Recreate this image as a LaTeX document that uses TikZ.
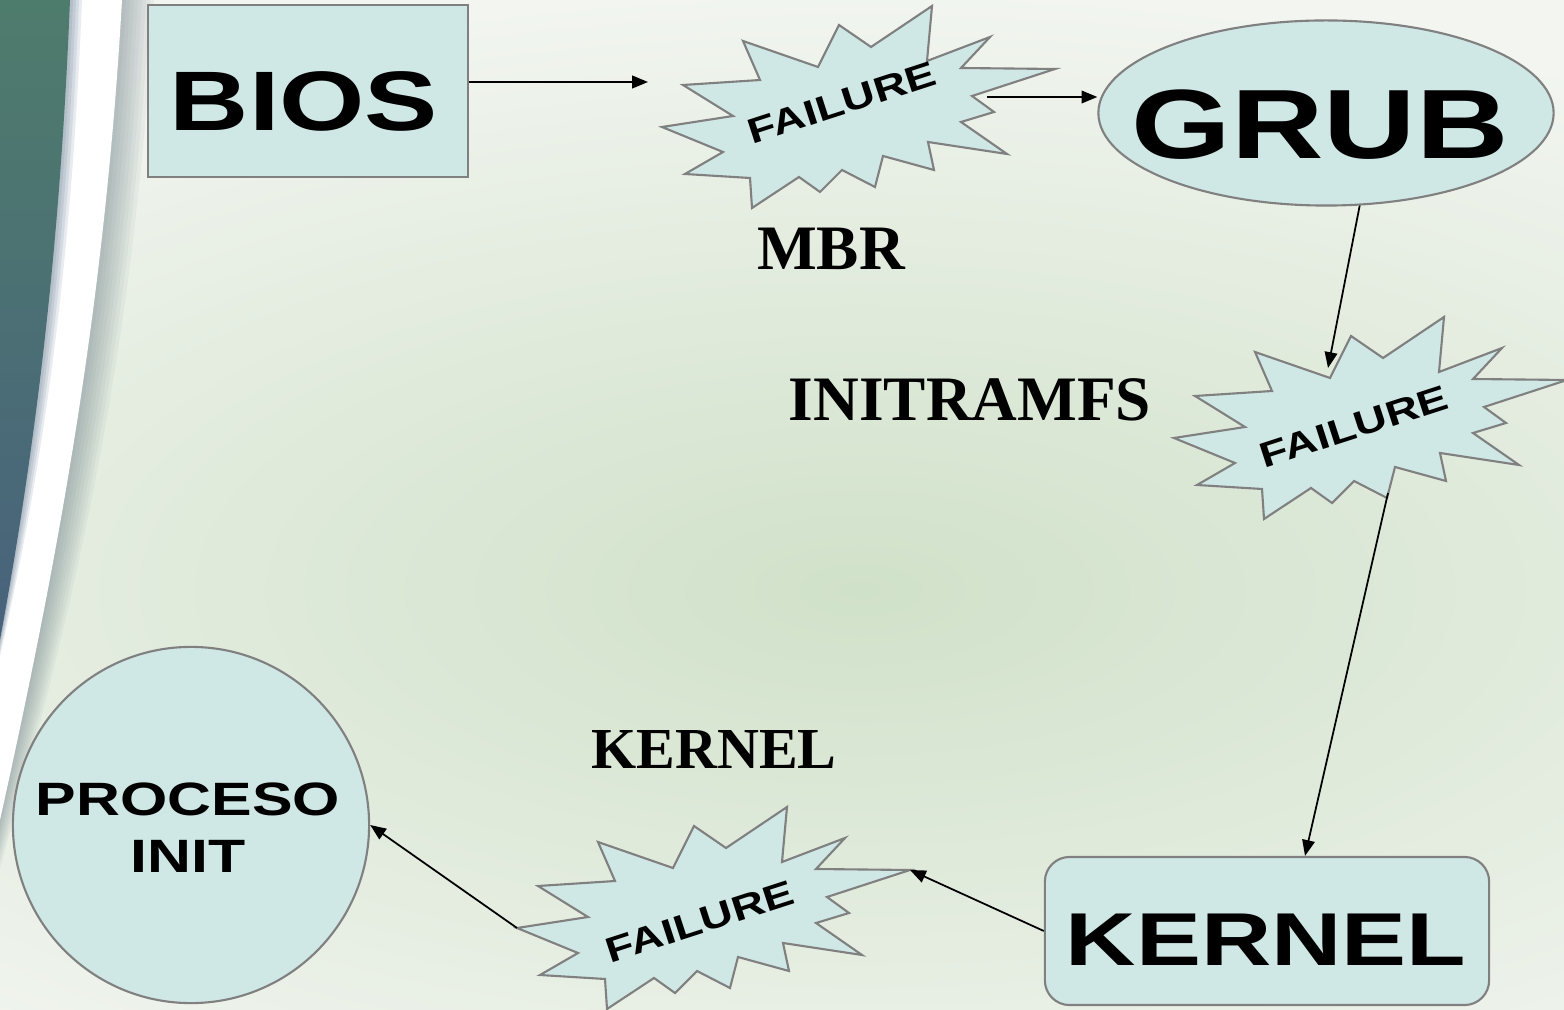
\documentclass[tikz,border=0pt]{standalone}
\usepackage{fontspec}
\newfontfamily\techfont[FakeStretch=1.3]{Liberation Sans}
\newfontfamily\tagfont{Liberation Serif}
\usetikzlibrary{arrows.meta,calc,shapes.geometric}
\definecolor{stagefill}{RGB}{207,231,229}
\definecolor{stageline}{RGB}{128,128,128}
\definecolor{bgmid}{RGB}{208,225,201}
\definecolor{bgedge}{RGB}{242,245,240}
\definecolor{bandtop}{RGB}{78,124,108}
\definecolor{bandbot}{RGB}{72,98,124}
\definecolor{bandshade}{RGB}{110,128,138}

\begin{document}
\begin{tikzpicture}[x=0.01cm, y=-0.01cm, >={Triangle[length=4.5pt,width=3.6pt]},
  stage/.style={draw=stageline, fill=stagefill, line width=0.6pt, inner sep=0pt},
  word/.style={font=\techfont\bfseries\fontsize{#1}{#1}\selectfont, inner sep=0pt},
  failure/.style={word=10, rotate=18},
  tag/.style={font=\tagfont\bfseries\fontsize{#1}{#1}\selectfont, inner sep=0pt},
  flow/.style={->, line width=0.5pt}]
  \useasboundingbox (0,0) rectangle (1564,1010);

  % slide background
  \begin{scope}
    \clip (0,0) rectangle (1564,1010);
    \fill[bgedge] (0,0) rectangle (1564,1010);
    \shade[inner color=bgmid, outer color=bgedge] (860,590) ellipse [x radius=1400, y radius=600];
    % soft shadow along the white stripe
    \foreach \k in {1,...,8}
      \fill[bandshade, opacity=0.07] (0,0) -- ({122+4*\k},0) .. controls ({105+4*\k},300) and ({60+4*\k},550) .. (0,{820+6*\k}) -- cycle;
    \fill[white] (0,0) -- (122,0) .. controls (105,300) and (60,550) .. (0,820) -- cycle;
    \foreach \k in {1,...,4}
      \fill[bandbot, opacity=0.12] (0,0) -- ({70+3*\k},0) .. controls ({60+3*\k},250) and ({35+3*\k},450) .. (0,{640+4*\k}) -- cycle;
    \shade[top color=bandtop, bottom color=bandbot] (0,0) -- (70,0) .. controls (60,250) and (35,450) .. (0,640) -- cycle;
  \end{scope}

  % the three failure bursts
  \foreach \x/\y in {858/107, 1370/418, 713/908}
    \filldraw[stage, shift={(\x,\y)}] (-196,20) -- (-125,9) -- (-175,-22) -- (-98,-27) -- (-115,-66) -- (-40,-40)
      -- (-19,-82) -- (13,-60) -- (74,-101) -- (69,-46) -- (132,-70) -- (103,-39) -- (197,-38) -- (114,-11)
      -- (136,5) -- (103,15) -- (149,47) -- (70,35) -- (76,63) -- (25,49) -- (17,80) -- (-16,63) -- (-38,85)
      -- (-59,70) -- (-106,101) -- (-108,71) -- (-173,67) -- (-135,45) -- cycle;
  \coordinate (f1w) at (648,82);
  \coordinate (f1e) at (987,97);
  \coordinate (f2n) at (1328,368);
  \coordinate (f2s) at (1388,493);
  \coordinate (f3e) at (910,870);
  \coordinate (f3w) at (517,928);

  % boot stages
  \node[stage, minimum width=3.2cm, minimum height=1.72cm] (bios) at (308,91) {};
  \node[stage, ellipse, minimum width=4.55cm, minimum height=1.85cm] (grub) at (1326,113) {};
  \node[stage, rounded corners=7pt, minimum width=4.44cm, minimum height=1.48cm] (kernel) at (1267,931) {};
  \node[stage, circle, minimum size=3.56cm] (init) at (191,825) {};

  \draw[flow] (f1w -| bios.east) -- (f1w);
  \draw[flow] (f1e) -- (f1e -| grub.west);
  \draw[flow] (grub.-70) -- (f2n);
  \draw[flow] (f2s) -- ($(kernel.north)+(38,0)$);
  \draw[flow] (kernel.west) -- (f3e);
  \draw[flow] (f3w) -- (init.east);

  \node[word=24] (biostxt) at (304,101) {BIOS};
  \node[word=28] (grubtxt) at (1320,125) {GRUB};
  \node[word=21.3] (kerneltxt) at (1266,940) {KERNEL};
  \node[word=13.3, align=center] (inittxt) at (188,828) {PROCESO\\[3pt]INIT};
  \node[failure] (f1) at (842,103) {FAILURE};
  \node[failure] (f2) at (1354,427) {FAILURE};
  \node[failure] (f3) at (700,922) {FAILURE};

  \node[tag=18] (mbr) at (831,249) {MBR};
  \node[tag=18] (initramfs) at (970,400) {INITRAMFS};
  \node[tag=16.5] (kerneltag) at (714,750) {KERNEL};
\end{tikzpicture}
\end{document}
